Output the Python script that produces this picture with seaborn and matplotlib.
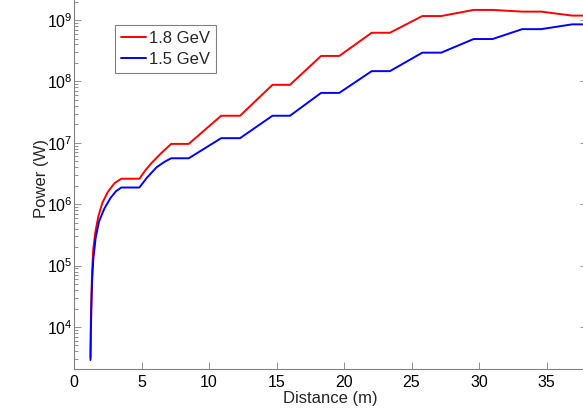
import numpy as np
import pandas as pd
import matplotlib
matplotlib.use("Agg")
import matplotlib.pyplot as plt
from matplotlib.ticker import LogLocator, NullFormatter
import seaborn as sns

# Data
x_red = [1.22, 1.25, 1.29, 1.34, 1.42, 1.58, 1.8, 2.1, 2.5, 3.0, 3.5, 4.84,
         5.3, 5.75, 6.4, 7.2, 8.5, 10.9, 12.3, 14.7, 16.0, 18.3, 19.65, 22.05,
         23.4, 25.8, 27.2, 29.6, 31.0, 33.2, 34.6, 36.9, 38.0]
y_red = [3.2e3, 1.26e4, 3.2e4, 7.9e4, 1.8e5, 3.5e5, 6.3e5, 1.05e6, 1.58e6,
         2.2e6, 2.6e6, 2.6e6, 3.6e6, 4.7e6, 6.6e6, 9.6e6, 9.6e6, 2.76e7, 2.76e7,
         8.8e7, 8.8e7, 2.6e8, 2.6e8, 6.2e8, 6.2e8, 1.16e9, 1.16e9, 1.46e9,
         1.46e9, 1.37e9, 1.37e9, 1.18e9, 1.18e9]
x_blue = [1.22, 1.25, 1.29, 1.34, 1.43, 1.6, 1.85, 2.25, 2.7, 3.1, 3.5, 4.84,
          5.4, 6.12, 6.7, 7.2, 8.5, 10.9, 12.3, 14.7, 16.0, 18.3, 19.65, 22.05,
          23.4, 25.8, 27.2, 29.6, 31.0, 33.2, 34.6, 36.9, 38.0]
y_blue = [2.9e3, 8.9e3, 2.2e4, 5.6e4, 1.26e5, 2.8e5, 5.2e5, 8.5e5, 1.26e6,
          1.62e6, 1.87e6, 1.87e6, 2.7e6, 4.0e6, 4.9e6, 5.6e6, 5.6e6, 1.19e7,
          1.19e7, 2.76e7, 2.76e7, 6.5e7, 6.5e7, 1.47e8, 1.47e8, 2.94e8, 2.94e8,
          4.9e8, 4.9e8, 7.1e8, 7.1e8, 8.5e8, 8.5e8]
series_names = ["1.8 GeV", "1.5 GeV"]
series_colors = ["#ff0000", "#0000ff"]
x_ticks = [0, 5, 10, 15, 20, 25, 30, 35]

df = pd.concat([
    pd.DataFrame({"Distance": x_red, "Power": y_red, "Beam": series_names[0]}),
    pd.DataFrame({"Distance": x_blue, "Power": y_blue, "Beam": series_names[1]}),
], ignore_index=True)

sns.set_style("white")
plt.rcParams["font.family"] = ["Liberation Sans", "DejaVu Sans"]
plt.rcParams["mathtext.fontset"] = "custom"
plt.rcParams["mathtext.rm"] = "Liberation Sans"
plt.rcParams["mathtext.it"] = "Liberation Sans"

fig = plt.figure(figsize=(5.83, 4.09), dpi=100)
# axes box extends slightly past the top/right edges of the picture
ax = fig.add_axes([74 / 583, 40 / 409, 513 / 583, 382 / 409])

sns.lineplot(data=df, x="Distance", y="Power", hue="Beam", sort=False,
             palette=dict(zip(series_names, series_colors)), linewidth=1.4,
             ax=ax, estimator=None)

ax.set_yscale("log")
ax.set_xlim(0, 38)
ax.set_ylim(2.07e3, 3.45e9)
ax.set_xticks(x_ticks)
ax.set_xticklabels([str(t) for t in x_ticks])
ax.yaxis.set_major_locator(LogLocator(base=10, numticks=20))
ax.yaxis.set_minor_locator(LogLocator(base=10, subs=np.arange(2, 10), numticks=100))
ax.yaxis.set_minor_formatter(NullFormatter())

ax.set_xlabel("Distance (m)", fontsize=12)
ax.xaxis.label.set_va("baseline")
ax.xaxis.set_label_coords(0.5, -34 / 382)
ax.set_ylabel("Power (W)", fontsize=12)
ax.yaxis.label.set_va("center")
ax.yaxis.set_label_coords(-32 / 513, (369 - 178) / 382)

for s in ax.spines.values():
    s.set_color("#808080")
    s.set_linewidth(0.8)
ax.tick_params(which="both", direction="in", top=True, right=True,
               left=True, bottom=True,
               color="#808080", labelsize=11.5, labelcolor="black")
ax.tick_params(which="major", length=5, width=0.6)
ax.tick_params(which="minor", length=3, width=0.6)
ax.tick_params(axis="x", pad=4)
ax.tick_params(axis="y", pad=1)

leg = ax.legend(loc="upper left", bbox_to_anchor=(41 / 513, (369 - 25) / 382),
                fontsize=12, frameon=True, fancybox=False, handlelength=1.5,
                handletextpad=0.2, borderpad=0.35, labelspacing=0.35,
                borderaxespad=0)
leg.get_frame().set_edgecolor("#808080")
leg.get_frame().set_linewidth(0.8)
leg.get_frame().set_alpha(1)

fig.savefig("out.png", dpi=100)
